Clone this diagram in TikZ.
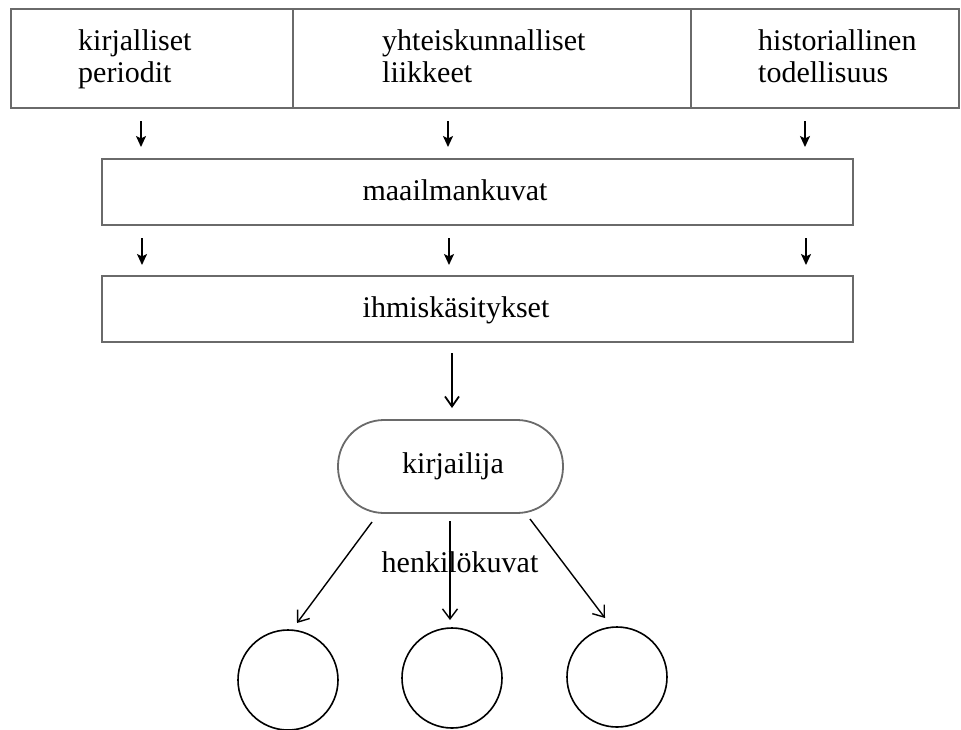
\documentclass[tikz,border=0pt]{standalone}
\usepackage{fontspec}
\setmainfont{Liberation Serif}
\usetikzlibrary{arrows.meta}
\definecolor{boxgray}{HTML}{6A6A6A}
\begin{document}
\begin{tikzpicture}[x=1pt,y=-1pt,
  every node/.style={font=\fontsize{30}{32}\selectfont, text=black},
  cell/.style={draw=boxgray, line width=1.8pt, anchor=north west, inner sep=0pt, minimum height=99pt},
  band/.style={draw=boxgray, line width=1.8pt, anchor=north west, inner sep=0pt, minimum width=751pt, minimum height=66pt},
  lbl/.style={anchor=north west, align=left, inner sep=0pt},
  smallarr/.style={line width=1.8pt, -{Stealth[length=11pt,width=10pt,inset=2.5pt]}},
  bigarr/.style={line width=1.8pt, -{Straight Barb[length=10pt,width=14pt]}},
  thinarr/.style={line width=1.4pt, -{Straight Barb[length=10pt,width=15pt]}},
  circ/.style={draw=black, line width=1.6pt, circle, minimum size=100pt, inner sep=0pt}
]
\useasboundingbox (0,0) rectangle (961,729);

% top row of cells
\node[cell, minimum width=282pt] (c1) at (10,8) {};
\node[cell, minimum width=398pt] (c2) at (292,8) {};
\node[cell, minimum width=268pt] (c3) at (690,8) {};
\node[lbl] (t1) at (78,29) {kirjalliset\\periodit};
\node[lbl] (t2) at (382,29) {yhteiskunnalliset\\liikkeet};
\node[lbl] (t3) at (758,29) {historiallinen\\todellisuus};

% bands
\node[band] (m) at (101,158) {};
\node[anchor=base] (mt) at (455,200) {maailmankuvat};
\node[band] (h) at (101,275) {};
\node[anchor=base] (ht) at (456,317) {ihmiskäsitykset};

% arrows row 1
\coordinate (a1s) at (141,121); \coordinate (a1e) at (141,147);
\coordinate (a2s) at (448,121); \coordinate (a2e) at (448,147);
\coordinate (a3s) at (805,121); \coordinate (a3e) at (805,147);
\draw[smallarr] (a1s) -- (a1e);
\draw[smallarr] (a2s) -- (a2e);
\draw[smallarr] (a3s) -- (a3e);
% arrows row 2
\coordinate (b1s) at (142,238); \coordinate (b1e) at (142,265);
\coordinate (b2s) at (449,238); \coordinate (b2e) at (449,265);
\coordinate (b3s) at (806,238); \coordinate (b3e) at (806,265);
\draw[smallarr] (b1s) -- (b1e);
\draw[smallarr] (b2s) -- (b2e);
\draw[smallarr] (b3s) -- (b3e);

% kirjailija
\node[draw=boxgray, line width=1.8pt, minimum width=225pt, minimum height=93pt, rounded corners=46pt, inner sep=0pt] (k) at (450.5,466.5) {};
\node[anchor=base] (kt) at (453,473) {kirjailija};
\coordinate (ks) at (452,353); \coordinate (ke) at (452,408);
\draw[bigarr] (ks) -- (ke);

% henkilökuvat label
\node[anchor=base] (hk) at (460,572) {henkilökuvat};

% circles
\node[circ] (o1) at (288,680) {};
\node[circ] (o2) at (452,678) {};
\node[circ] (o3) at (617,677) {};

% arrows to circles
\coordinate (d1s) at (372,522); \coordinate (d1e) at (297,623);
\coordinate (d2s) at (450,521); \coordinate (d2e) at (450,620);
\coordinate (d3s) at (530,519); \coordinate (d3e) at (605,618);
\draw[thinarr] (d1s) -- (d1e);
\draw[thinarr] (d2s) -- (d2e);
\draw[thinarr] (d3s) -- (d3e);
\end{tikzpicture}
\end{document}
